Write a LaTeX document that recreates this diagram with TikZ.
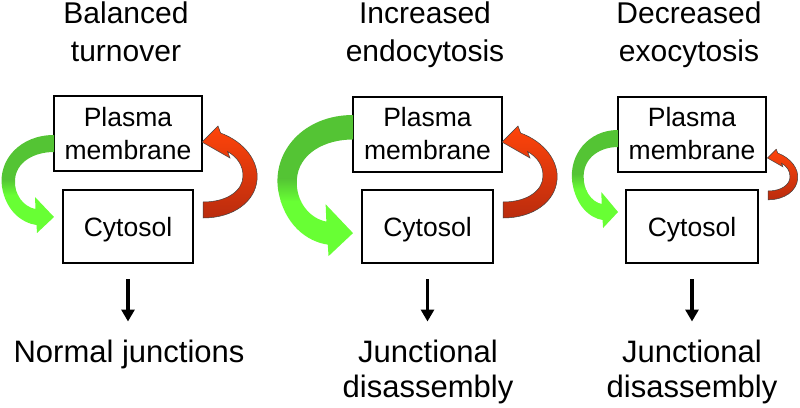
\documentclass[tikz,border=0pt]{standalone}
\usepackage{fontspec}
\setmainfont{Liberation Sans}
\usetikzlibrary{arrows.meta}
\definecolor{gdark}{RGB}{84,196,52}
\definecolor{gbright}{RGB}{104,255,52}
\definecolor{rtop}{RGB}{255,68,10}
\definecolor{rbot}{RGB}{186,44,14}
\tikzset{
  pmbox/.style={draw, line width=2pt, minimum width=148pt, minimum height=75pt, inner sep=0pt, align=center, font=\fontsize{26.5}{33}\selectfont},
  cybox/.style={draw, line width=2pt, minimum width=131pt, minimum height=73pt, inner sep=0pt, text depth=0pt, font=\fontsize{26.5}{33}\selectfont},
  title/.style={anchor=north, inner sep=0pt, align=center, font=\fontsize{30}{38}\selectfont},
  result/.style={anchor=north, inner sep=0pt, align=center, font=\fontsize{31}{35}\selectfont},
  darrow/.style={-{Triangle[width=13pt,length=12pt]}, line width=3.3pt, shorten <=15pt, shorten >=18.5pt},
  gpath/.style={insert path={(0,0) .. controls (-34,0) and (-56,25) .. (-52,52) .. controls (-48,76) and (-32,88) .. (-17.5,90) -- (-17,98) -- (0,82) -- (-19,62) -- (-18.5,74) .. controls (-30,72) and (-40,60) .. (-39,45) .. controls (-38,27) and (-20,17) .. (0,17) -- cycle}},
  rpath/.style={insert path={(15,-76) -- (17.6,-69) .. controls (42,-60) and (56,-40) .. (54,-22) .. controls (52,0) and (30,16) .. (0,16) -- (0,0) .. controls (25,0) and (40,-12) .. (40,-26) .. controls (40,-37) and (34,-45) .. (24.6,-50.4) -- (27,-44) -- (-1,-60) -- cycle}},
}
\newcommand{\greenarrow}{%
  \begin{scope}
    \clip[gpath];
    \fill[gdark] (-100,-10) rectangle (10,44);
    \shade[top color=gdark, bottom color=gbright] (-100,44) rectangle (10,60);
    \fill[gbright] (-100,60) rectangle (10,110);
  \end{scope}}
\newcommand{\redarrow}{%
  \shadedraw[top color=rtop, bottom color=rbot, draw=black!75, line width=0.5pt, rpath];}
\begin{document}
\begin{tikzpicture}[x=1pt, y=-1pt]
\useasboundingbox (0,0) rectangle (800,407);

% titles
\node[title] (t1) at (126,1.5) {Balanced\\turnover};
\node[title] (t2) at (425,1.5) {Increased\\endocytosis};
\node[title] (t3) at (689,1.5) {Decreased\\exocytosis};

% boxes
\node[pmbox] (pm1) at (128,133.5) {Plasma\\membrane};
\node[cybox, minimum width=130pt] (cy1) at (128,226.5) {Cytosol};
\node[pmbox, minimum width=149pt] (pm2) at (427.5,134) {Plasma\\membrane};
\node[cybox] (cy2) at (427.5,226.5) {Cytosol};
\node[pmbox] (pm3) at (692,134) {Plasma\\membrane};
\node[cybox, minimum width=132pt] (cy3) at (692,226.5) {Cytosol};

% results
\node[result] (b1) at (129,340) {Normal junctions};
\node[result] (b2) at (428,340) {Junctional\\disassembly};
\node[result] (b3) at (692,340) {Junctional\\disassembly};

% down arrows
\draw[darrow] (cy1.south) -- (cy1.south |- b1.north);
\draw[darrow] (cy2.south) -- (cy2.south |- b2.north);
\draw[darrow] (cy3.south) -- (cy3.south |- b3.north);

% green curved arrows (plasma membrane -> cytosol)
\begin{scope}[shift={(54,135)}]\greenarrow\end{scope}
\begin{scope}[shift={(353,115)}, scale=1.44]\greenarrow\end{scope}
\begin{scope}[shift={(618,130)}, xscale=0.88]\greenarrow\end{scope}

% red curved arrows (cytosol -> plasma membrane)
\begin{scope}[shift={(203,202)}]\redarrow\end{scope}
\begin{scope}[shift={(503,202)}]\redarrow\end{scope}
\begin{scope}[shift={(768,191)}, scale=0.55]\redarrow\end{scope}
\end{tikzpicture}
\end{document}
